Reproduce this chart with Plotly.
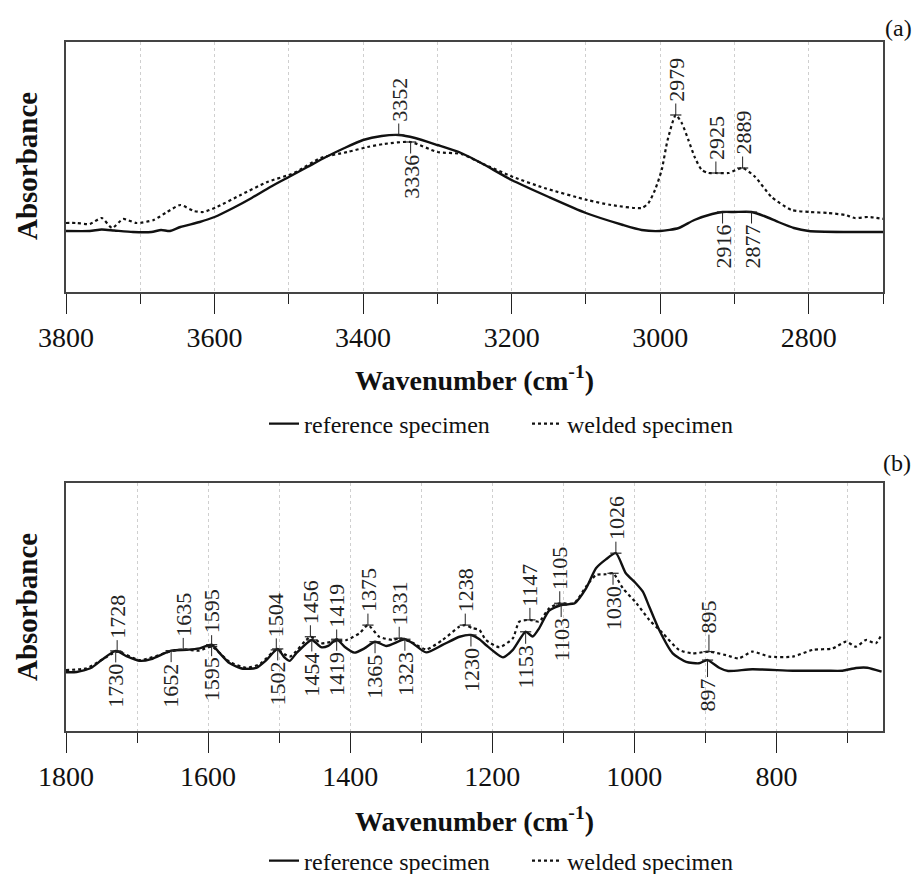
import numpy as np
import plotly.graph_objects as go

# ---------------- Panel (a): 3800-2700 cm-1 ----------------
wn_ref_a = [3800, 3768, 3752, 3735, 3710, 3685, 3672, 3660, 3646, 3620, 3600, 3575, 3550, 3525,
            3500, 3475, 3450, 3425, 3400, 3375, 3352, 3330, 3300, 3268, 3241, 3200, 3150, 3100,
            3050, 3025, 3000, 2975, 2954, 2930, 2916, 2900, 2877, 2860, 2841, 2820, 2800, 2750, 2700]
abs_ref_a = [0.244, 0.244, 0.250, 0.246, 0.240, 0.240, 0.248, 0.244, 0.260, 0.280, 0.300, 0.336, 0.376, 0.420,
             0.460, 0.500, 0.540, 0.576, 0.608, 0.624, 0.628, 0.616, 0.588, 0.556, 0.516, 0.448, 0.380, 0.316,
             0.268, 0.248, 0.244, 0.256, 0.288, 0.312, 0.320, 0.320, 0.320, 0.304, 0.280, 0.256, 0.244, 0.240, 0.240]

wn_weld_a = [3800, 3786, 3768, 3752, 3738, 3723, 3705, 3682, 3664, 3646, 3628, 3615, 3597, 3565, 3529,
             3493, 3457, 3421, 3394, 3372, 3336, 3300, 3268, 3241, 3198, 3156, 3098, 3066, 3025, 3016,
             3007, 2998, 2990, 2979, 2971, 2962, 2953, 2944, 2935, 2925, 2908, 2889, 2872, 2850, 2823,
             2798, 2774, 2751, 2738, 2720, 2698]
abs_weld_a = [0.276, 0.276, 0.272, 0.296, 0.256, 0.292, 0.276, 0.288, 0.320, 0.348, 0.324, 0.320, 0.340, 0.388, 0.440,
              0.476, 0.536, 0.560, 0.580, 0.592, 0.600, 0.560, 0.552, 0.516, 0.460, 0.416, 0.368, 0.348, 0.336, 0.355,
              0.408, 0.488, 0.608, 0.708, 0.676, 0.608, 0.536, 0.488, 0.476, 0.476, 0.476, 0.496, 0.460, 0.380, 0.328,
              0.320, 0.316, 0.308, 0.296, 0.300, 0.292]

peak_a_wn = [3352, 3336, 2979, 2925, 2889, 2916, 2877]
peak_a_series = ["ref", "weld", "weld", "weld", "weld", "ref", "ref"]
peak_a_side = ["up", "down", "up", "up", "up", "down", "down"]

# ---------------- Panel (b): 1800-650 cm-1 ----------------
wn_ref_b = [1800, 1785, 1765, 1750, 1730, 1715, 1696, 1680, 1652, 1630, 1612, 1595, 1584, 1570, 1551,
            1532, 1518, 1502, 1493, 1485, 1476, 1454, 1441, 1431, 1419, 1408, 1394, 1380, 1365, 1349,
            1323, 1312, 1293, 1270, 1246, 1230, 1218, 1209, 1185, 1171, 1153, 1143, 1134, 1120, 1103,
            1084, 1068, 1054, 1040, 1026, 1012, 998, 988, 979, 965, 946, 927, 909, 897, 880,
            868, 834, 777, 730, 707, 688, 672, 652]
abs_ref_b = [0.237, 0.238, 0.254, 0.286, 0.323, 0.302, 0.283, 0.290, 0.324, 0.327, 0.333, 0.348, 0.315, 0.274, 0.251,
             0.255, 0.286, 0.331, 0.298, 0.283, 0.313, 0.367, 0.338, 0.343, 0.370, 0.340, 0.316, 0.333, 0.360, 0.343,
             0.370, 0.354, 0.317, 0.347, 0.380, 0.387, 0.370, 0.347, 0.297, 0.327, 0.400, 0.381, 0.414, 0.485, 0.508,
             0.515, 0.575, 0.656, 0.692, 0.717, 0.636, 0.596, 0.562, 0.501, 0.407, 0.313, 0.279, 0.273, 0.286, 0.254,
             0.242, 0.249, 0.243, 0.243, 0.243, 0.254, 0.255, 0.239]

wn_weld_b = [1800, 1771, 1750, 1728, 1696, 1654, 1635, 1612, 1595, 1570, 1546, 1527, 1504, 1485, 1456,
             1441, 1419, 1405, 1387, 1375, 1359, 1340, 1331, 1312, 1293, 1270, 1246, 1238, 1228, 1218,
             1209, 1190, 1171, 1162, 1147, 1134, 1120, 1105, 1085, 1068, 1054, 1040, 1030, 1016, 997,
             979, 960, 937, 918, 895, 871, 853, 834, 810, 777, 749, 721, 702, 688, 674,
             660, 652]
abs_weld_b = [0.246, 0.253, 0.286, 0.320, 0.286, 0.320, 0.329, 0.324, 0.340, 0.279, 0.255, 0.270, 0.327, 0.300, 0.380,
              0.354, 0.363, 0.367, 0.394, 0.427, 0.380, 0.367, 0.374, 0.356, 0.329, 0.367, 0.421, 0.427, 0.415, 0.407,
              0.367, 0.338, 0.374, 0.441, 0.448, 0.441, 0.495, 0.515, 0.515, 0.582, 0.629, 0.632, 0.636, 0.575, 0.515,
              0.448, 0.394, 0.327, 0.313, 0.320, 0.306, 0.293, 0.320, 0.300, 0.300, 0.327, 0.333, 0.360, 0.340, 0.367,
              0.354, 0.390]

peak_b_wn = [1728, 1635, 1595, 1504, 1456, 1419, 1375, 1331, 1238, 1147, 1105, 1026, 895,
             1730, 1652, 1595, 1502, 1454, 1419, 1365, 1323, 1230, 1153, 1103, 1030, 897]
peak_b_series = ["weld"] * 11 + ["ref", "weld"] + ["ref"] * 11 + ["weld", "ref"]
peak_b_side = ["up"] * 13 + ["down"] * 13

FONT = "Liberation Serif"
INK = "#111111"

fig = go.Figure()


def add_panel(xa, ya, legend, wn_ref, abs_ref, wn_weld, abs_weld, pk_wn, pk_ser, pk_side):
    fig.add_trace(go.Scatter(x=wn_ref, y=abs_ref, mode="lines", name="reference specimen",
                             line=dict(color=INK, width=2.4, shape="spline", smoothing=0.6),
                             xaxis=xa, yaxis=ya, legend=legend, hoverinfo="skip"))
    fig.add_trace(go.Scatter(x=wn_weld, y=abs_weld, mode="lines", name="welded specimen",
                             line=dict(color=INK, width=2.2, dash="dot", shape="spline", smoothing=0.6),
                             xaxis=xa, yaxis=ya, legend=legend, hoverinfo="skip"))
    px, py = [], []
    for wn, s, side in zip(pk_wn, pk_ser, pk_side):
        xs, ys = (wn_ref, abs_ref) if s == "ref" else (wn_weld, abs_weld)
        yv = float(np.interp(wn, xs[::-1], ys[::-1]))
        px.append(wn)
        py.append(yv)
        fig.add_annotation(x=wn, y=yv, xref=xa, yref=ya, text=str(wn), textangle=-90,
                           showarrow=True, arrowhead=0, arrowwidth=1, arrowcolor="#222",
                           ax=0, ay=-35 if side == "up" else 35, standoff=0,
                           font=dict(family=FONT, size=22, color="#222"))
    fig.add_trace(go.Scatter(x=px, y=py, mode="markers", showlegend=False, hoverinfo="skip",
                             marker=dict(symbol="line-ew", size=8, line=dict(width=1.2, color="#222")),
                             xaxis=xa, yaxis=ya))


add_panel("x", "y", "legend", wn_ref_a, abs_ref_a, wn_weld_a, abs_weld_a,
          peak_a_wn, peak_a_series, peak_a_side)
add_panel("x2", "y2", "legend2", wn_ref_b, abs_ref_b, wn_weld_b, abs_weld_b,
          peak_b_wn, peak_b_series, peak_b_side)

# The page places the figure 8 px in from the top-left corner of the window.
OFF = 8
W, H = 923 - OFF, 874 - OFF


def px_x(sx):
    return (sx - OFF) / W


def px_y(sy):
    return 1 - (sy - OFF) / H


xdom = [px_x(66), px_x(883)]
GRID = "#cfcfcf"


def xaxis_style(rng, anchor):
    return dict(domain=xdom, range=rng, anchor=anchor, showline=True, linecolor="#444", linewidth=1.5,
                mirror=True, ticks="outside", ticklen=20, tickwidth=1.2, tickcolor="#222",
                tick0=0, dtick=200, showgrid=True, gridcolor=GRID, griddash="dot", gridwidth=1,
                minor=dict(dtick=100, ticks="outside", ticklen=10, tickwidth=1.2, tickcolor="#222",
                           showgrid=True, gridcolor=GRID, griddash="dot", gridwidth=1),
                tickfont=dict(family=FONT, size=28, color=INK), ticklabelstandoff=0,
                zeroline=False, fixedrange=True, automargin=False)


def yaxis_style(dom, anchor):
    return dict(domain=dom, range=[0, 1], anchor=anchor, showline=True, linecolor="#444", linewidth=1.5,
                mirror=True, ticks="", showticklabels=False, showgrid=False, zeroline=False,
                fixedrange=True, automargin=False)


leg_common = dict(orientation="h", xanchor="center", x=px_x(527), yanchor="middle",
                  font=dict(family=FONT, size=24, color=INK), bgcolor="rgba(0,0,0,0)",
                  itemwidth=30, tracegroupgap=0, entrywidth=218, entrywidthmode="pixels")

fig.update_layout(
    width=W, height=H, margin=dict(l=0, r=0, t=0, b=0, pad=0, autoexpand=False),
    paper_bgcolor="white", plot_bgcolor="white", showlegend=True,
    xaxis=xaxis_style([3800, 2700], "y"),
    yaxis=yaxis_style([px_y(292), px_y(42)], "x"),
    xaxis2=xaxis_style([1800, 650], "y2"),
    yaxis2=yaxis_style([px_y(731), px_y(483)], "x2"),
    legend=dict(y=px_y(424), **leg_common),
    legend2=dict(y=px_y(861), **leg_common),
)

# Axis titles and panel tags
for sy in (378, 819):
    fig.add_annotation(x=px_x(475), y=px_y(sy), xref="paper", yref="paper", showarrow=False,
                       xanchor="center", yanchor="middle",
                       text="<b>Wavenumber (cm<sup>-1</sup>)</b>",
                       font=dict(family=FONT, size=28, color=INK))
for sy in (166, 607):
    fig.add_annotation(x=px_x(27), y=px_y(sy), xref="paper", yref="paper", showarrow=False,
                       xanchor="center", yanchor="middle", textangle=-90,
                       text="<b>Absorbance</b>", font=dict(family=FONT, size=29, color=INK))
for tag, sx, sy in (("(a)", 898, 28), ("(b)", 897, 463)):
    fig.add_annotation(x=px_x(sx), y=px_y(sy), xref="paper", yref="paper", showarrow=False,
                       xanchor="center", yanchor="middle",
                       text=tag, font=dict(family=FONT, size=24, color=INK))

fig.write_html("out.html")
